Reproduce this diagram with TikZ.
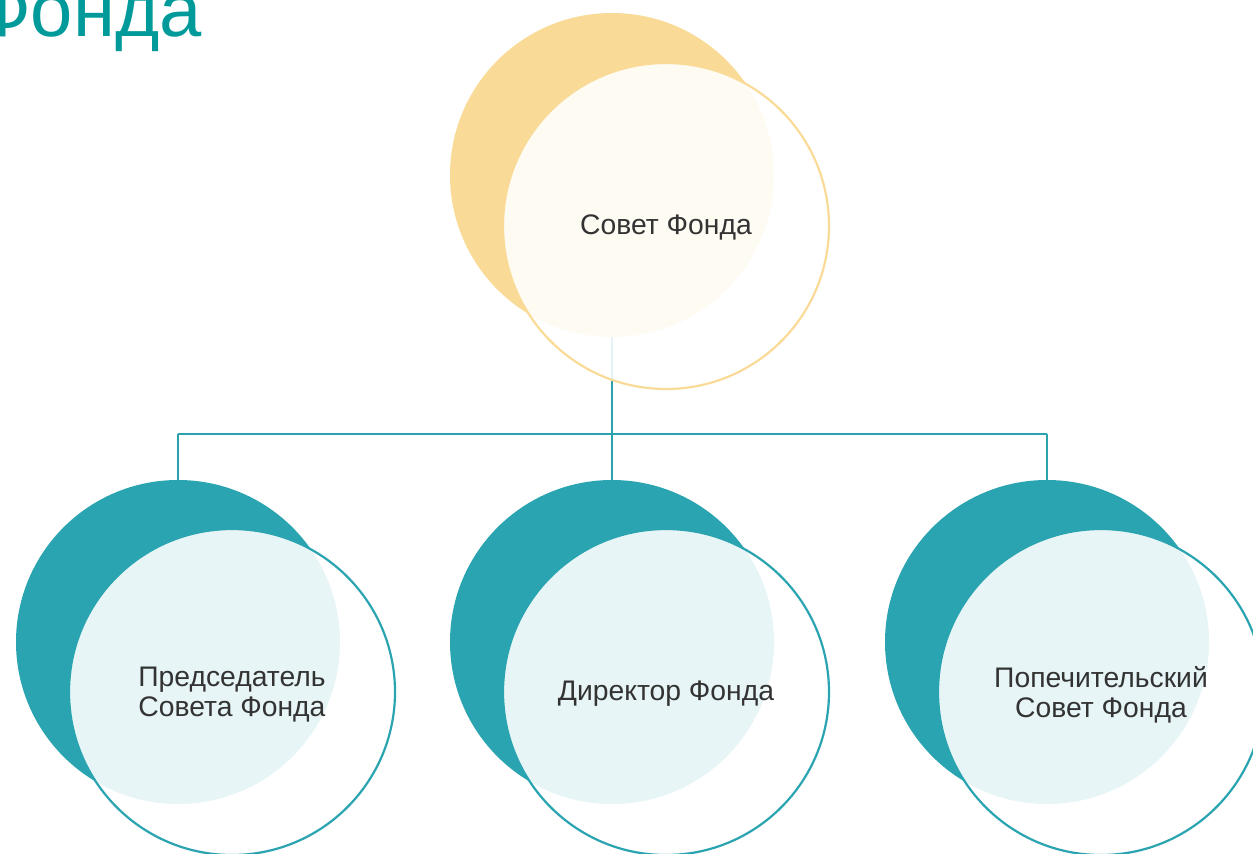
\documentclass[tikz,border=0pt]{standalone}
\usepackage{fontspec}
\setmainfont{Liberation Sans}
\definecolor{sunfill}{HTML}{F9DB97}
\definecolor{tealfill}{HTML}{29A4B0}
\definecolor{linecol}{HTML}{2AA3AF}
\definecolor{titlecol}{HTML}{009A9A}
\definecolor{txt}{HTML}{333333}
\tikzset{
  backdisk/.style={circle, minimum size=324pt, inner sep=0pt},
  frontdisk/.style={circle, minimum size=326pt, inner sep=0pt, line width=2.2pt,
    fill=white, fill opacity=0.89, text opacity=1, text=txt,
    font=\fontsize{28.3}{30}\selectfont, align=center},
  conn/.style={draw=linecol, line width=2pt}
}
\begin{document}
\begin{tikzpicture}[x=1pt,y=-1pt]
\useasboundingbox (0,0) rectangle (1253,854);
\fill[white] (0,0) rectangle (1253,854);
% title fragment
\node[anchor=base east, inner sep=0pt, text=titlecol, font=\fontsize{76}{86}\selectfont] (title) at (202,36) {Фонда};
% back disks
\node[backdisk, fill=sunfill] (topback) at (612,175) {};
\node[backdisk, fill=tealfill] (lback) at (178,642) {};
\node[backdisk, fill=tealfill] (mback) at (612,642) {};
\node[backdisk, fill=tealfill] (rback) at (1047,642) {};
% connectors
\coordinate (bus) at (612,434);
\coordinate (busl) at (178,434);
\coordinate (busr) at (1047,434);
\draw[conn] (topback.south) -- (bus);
\draw[conn] (busl) -- (busr);
\draw[conn] (busl) -- (lback.north);
\draw[conn] (bus) -- (mback.north);
\draw[conn] (busr) -- (rback.north);
% front disks
\node[frontdisk, draw=sunfill] (top) at (666,226) {};
\node[frontdisk, draw=tealfill] (left) at (232,692) {};
\node[frontdisk, draw=tealfill] (mid) at (666,692) {};
\node[frontdisk, draw=tealfill] (right) at (1101,692) {};
% labels
\node[text=txt, font=\fontsize{28.3}{30}\selectfont, align=center] (toplbl) at ([yshift=-1.5pt]top.center) {Совет Фонда};
\node[text=txt, font=\fontsize{28.3}{30}\selectfont, align=center] (leftlbl) at ([yshift=-3pt]left.center) {Председатель\\Совета Фонда};
\node[text=txt, font=\fontsize{28.3}{30}\selectfont, align=center] (midlbl) at ([yshift=-1.5pt]mid.center) {Директор Фонда};
\node[text=txt, font=\fontsize{28.3}{30}\selectfont, align=center] (rightlbl) at ([yshift=-3pt]right.center) {Попечительский\\Совет Фонда};
\end{tikzpicture}
\end{document}
